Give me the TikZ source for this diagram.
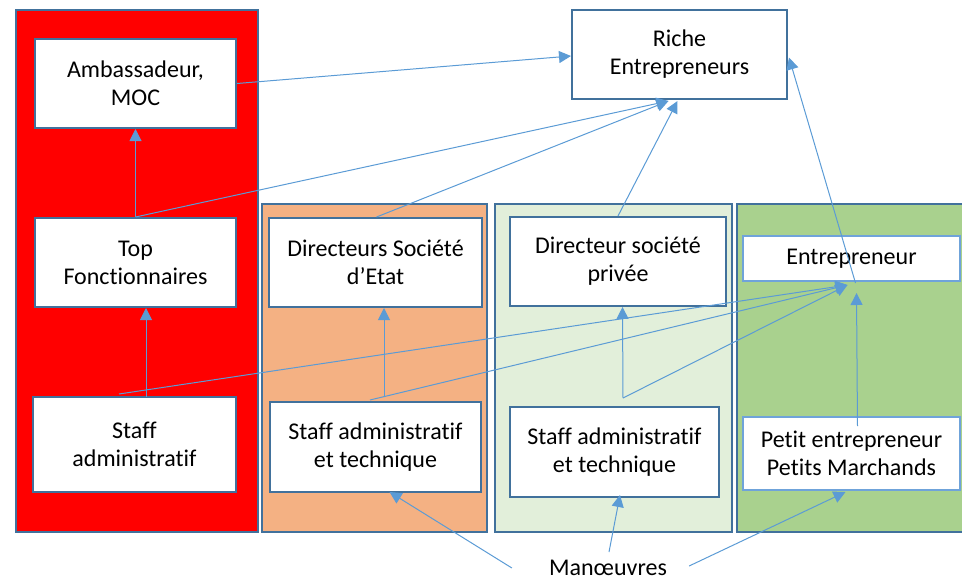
\documentclass[tikz,border=0pt]{standalone}
\usepackage{fontspec}
\setmainfont{Carlito}[Ligatures=NoCommon]
\usetikzlibrary{arrows.meta,calc}
\definecolor{bord}{HTML}{41719C}
\definecolor{arr}{HTML}{5B9BD5}
\definecolor{lbord}{HTML}{6FA3DA}
\definecolor{cred}{HTML}{FF0000}
\definecolor{corange}{HTML}{F4B183}
\definecolor{clgreen}{HTML}{E2EFDA}
\definecolor{cgreen}{HTML}{A9D18E}
\tikzset{
  panel/.style={draw=bord,line width=2pt},
  box/.style={draw=bord,line width=2pt,fill=white,align=center,inner sep=0pt,
    font=\fontsize{24}{28}\selectfont},
  lbox/.style={box,draw=lbord},
  conn/.style={draw=arr,line width=1pt,-{Triangle[length=12pt,width=12pt]}},
  plain/.style={draw=arr,line width=1pt}
}
\begin{document}
\begin{tikzpicture}[x=1pt,y=-1pt]
\useasboundingbox (0,0) rectangle (962,581);
% panels
\path[panel,fill=cred] (16,10) rectangle (258,532);
\path[panel,fill=corange] (262,204) rectangle (487,532);
\path[panel,fill=clgreen] (495,204) rectangle (732,532);
\path[panel,fill=cgreen] (737,204) rectangle (966,532);
% boxes
\node[box,minimum width=201pt,minimum height=89pt] (amb) at (135.5,83.5) {Ambassadeur,\\MOC};
\node[box,minimum width=201pt,minimum height=89pt] (tf) at (135.5,262.5) {Top\\Fonctionnaires};
\node[box,minimum width=203pt,minimum height=95pt] (sa1) at (134.5,444.5) {Staff\\administratif};
\node[box,minimum width=213pt,minimum height=89pt] (dse) at (375.5,262.5) {Directeurs Société\\d’Etat};
\node[box,minimum width=211pt,minimum height=90pt] (sa2) at (375.5,447) {Staff administratif\\et technique};
\node[box,minimum width=216pt,minimum height=89pt] (dsp) at (618,261.5) {Directeur société\\privée};
\node[box,minimum width=209pt,minimum height=90pt] (sa3) at (614.5,452) {Staff administratif\\et technique};
\node[lbox,minimum width=217pt,minimum height=45pt] (ent) at (851.5,258.5) {Entrepreneur};
\node[lbox,minimum width=217pt,minimum height=73pt] (pe) at (851.5,453.5) {Petit entrepreneur\\Petits Marchands};
\node[box,minimum width=215pt,minimum height=89pt] (riche) at (679.5,54.5) {Riche\\Entrepreneurs};
\node[font=\fontsize{24}{28}\selectfont,inner sep=0pt] (man) at (608,568) {Manœuvres};
% named points
\coordinate (rtipA) at ($(riche.south)+(-11,1)$);
\coordinate (rtipB) at ($(riche.south)+(-2,1)$);
\coordinate (etip) at ($(ent.south)+(-4,3)$);
\coordinate (sa1o) at ($(sa1.north)+(-15.5,-2)$);
\coordinate (sa1v) at ($(sa1.north)+(11.5,1)$);
\coordinate (sa2o) at ($(sa2.north)+(-5.5,-1)$);
\coordinate (sa2v) at ($(sa2.north)+(8.5,-4)$);
\coordinate (sa3o) at ($(sa3.north)+(8.5,-8)$);
\coordinate (peo) at ($(pe.north)+(6,10)$);
\coordinate (ento) at ($(ent.south)+(4,1)$);
\coordinate (m1) at ($(man.west)+(-37,0)$);
\coordinate (m2) at ($(man.north)+(1,-8)$);
\coordinate (m3) at ($(man.east)+(22,-2)$);
% connectors
\draw[conn] (amb.east) -- ($(riche.west)+(0,1.5)$);
\draw[conn] (tf.north) -- (amb.south);
\draw[conn] (tf.north) -- (rtipA);
\draw[conn] ($(dse.north)+(1,0)$) -- (rtipA);
\draw[conn] (dsp.north) -- (rtipB);
\draw[conn] (ento) -- ($(riche.east)+(1,3)$);
\draw[conn] (sa1v) -- ($(tf.south)+(10.5,0)$);
\draw[conn] (sa1o) -- (etip);
\draw[conn] (sa2v) -- ($(dse.south)+(8.5,0)$);
\draw[conn] (sa2o) -- (etip);
\draw[conn] (sa3o) -- ($(dsp.south)+(4.5,0)$);
\draw[conn] (sa3o) -- (etip);
\draw[conn] (peo) -- ($(ent.south)+(5,11)$);
\draw[conn] (m1) -- ($(sa2.south)+(14,-1)$);
\draw[conn] (m2) -- ($(sa3.south)+(5.5,-3)$);
\draw[conn] (m3) -- ($(pe.south)+(-6,1)$);
\end{tikzpicture}
\end{document}
